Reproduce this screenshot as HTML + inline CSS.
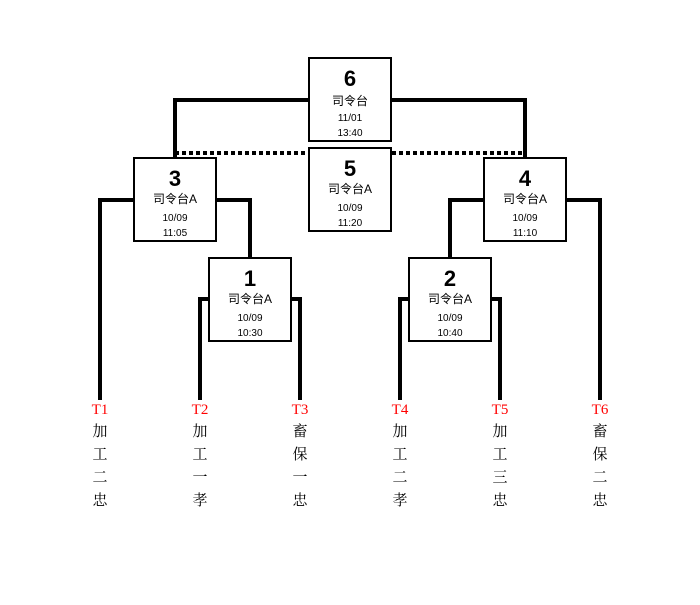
<!DOCTYPE html>
<html><head><meta charset="utf-8"><style>
body{margin:0;background:#fff;}
svg text{font-family:"Liberation Sans","Noto Sans CJK TC",sans-serif;}
svg text.s{font-family:"Liberation Serif","Noto Serif CJK SC",serif;}
</style></head><body>
<svg width="700" height="600" xmlns="http://www.w3.org/2000/svg">
<g stroke="#000" stroke-width="4" fill="none">
<polyline points="309,100 175,100 175,158"/>
<polyline points="391,100 525,100 525,158"/>
<line x1="175" y1="153" x2="525" y2="153" stroke-dasharray="4,3"/>
<polyline points="134,200 100,200 100,400"/>
<polyline points="216,200 250,200 250,258"/>
<polyline points="209,299 200,299 200,400"/>
<polyline points="291,299 300,299 300,400"/>
<polyline points="484,200 450,200 450,258"/>
<polyline points="566,200 600,200 600,400"/>
<polyline points="409,299 400,299 400,400"/>
<polyline points="491,299 500,299 500,400"/>
</g>
<g stroke="#000" stroke-width="2" fill="#fff">
<rect x="309" y="58" width="82" height="83"/>
<rect x="309" y="148" width="82" height="83"/>
<rect x="134" y="158" width="82" height="83"/>
<rect x="484" y="158" width="82" height="83"/>
<rect x="209" y="258" width="82" height="83"/>
<rect x="409" y="258" width="82" height="83"/>
</g>
<g text-anchor="middle">
<g transform="translate(350,58)"><text x="0" y="28" font-size="22" font-weight="bold">6</text><text x="0" y="47" font-size="12">司令台</text><text x="0" y="63" font-size="10">11/01</text><text x="0" y="78" font-size="10">13:40</text></g>
<g transform="translate(350,148)"><text x="0" y="28" font-size="22" font-weight="bold">5</text><text x="0" y="45" font-size="12">司令台A</text><text x="0" y="63" font-size="10">10/09</text><text x="0" y="78" font-size="10">11:20</text></g>
<g transform="translate(175,158)"><text x="0" y="28" font-size="22" font-weight="bold">3</text><text x="0" y="45" font-size="12">司令台A</text><text x="0" y="63" font-size="10">10/09</text><text x="0" y="78" font-size="10">11:05</text></g>
<g transform="translate(525,158)"><text x="0" y="28" font-size="22" font-weight="bold">4</text><text x="0" y="45" font-size="12">司令台A</text><text x="0" y="63" font-size="10">10/09</text><text x="0" y="78" font-size="10">11:10</text></g>
<g transform="translate(250,258)"><text x="0" y="28" font-size="22" font-weight="bold">1</text><text x="0" y="45" font-size="12">司令台A</text><text x="0" y="63" font-size="10">10/09</text><text x="0" y="78" font-size="10">10:30</text></g>
<g transform="translate(450,258)"><text x="0" y="28" font-size="22" font-weight="bold">2</text><text x="0" y="45" font-size="12">司令台A</text><text x="0" y="63" font-size="10">10/09</text><text x="0" y="78" font-size="10">10:40</text></g>
</g>
<g text-anchor="middle" font-size="15">
<g transform="translate(100,0)"><text class="s" y="414" fill="#f00">T1</text><text class="s" y="436">加</text><text class="s" y="459">工</text><text class="s" y="482">二</text><text class="s" y="505">忠</text></g>
<g transform="translate(200,0)"><text class="s" y="414" fill="#f00">T2</text><text class="s" y="436">加</text><text class="s" y="459">工</text><text class="s" y="482">一</text><text class="s" y="505">孝</text></g>
<g transform="translate(300,0)"><text class="s" y="414" fill="#f00">T3</text><text class="s" y="436">畜</text><text class="s" y="459">保</text><text class="s" y="482">一</text><text class="s" y="505">忠</text></g>
<g transform="translate(400,0)"><text class="s" y="414" fill="#f00">T4</text><text class="s" y="436">加</text><text class="s" y="459">工</text><text class="s" y="482">二</text><text class="s" y="505">孝</text></g>
<g transform="translate(500,0)"><text class="s" y="414" fill="#f00">T5</text><text class="s" y="436">加</text><text class="s" y="459">工</text><text class="s" y="482">三</text><text class="s" y="505">忠</text></g>
<g transform="translate(600,0)"><text class="s" y="414" fill="#f00">T6</text><text class="s" y="436">畜</text><text class="s" y="459">保</text><text class="s" y="482">二</text><text class="s" y="505">忠</text></g>
</g>
</svg>
</body></html>
